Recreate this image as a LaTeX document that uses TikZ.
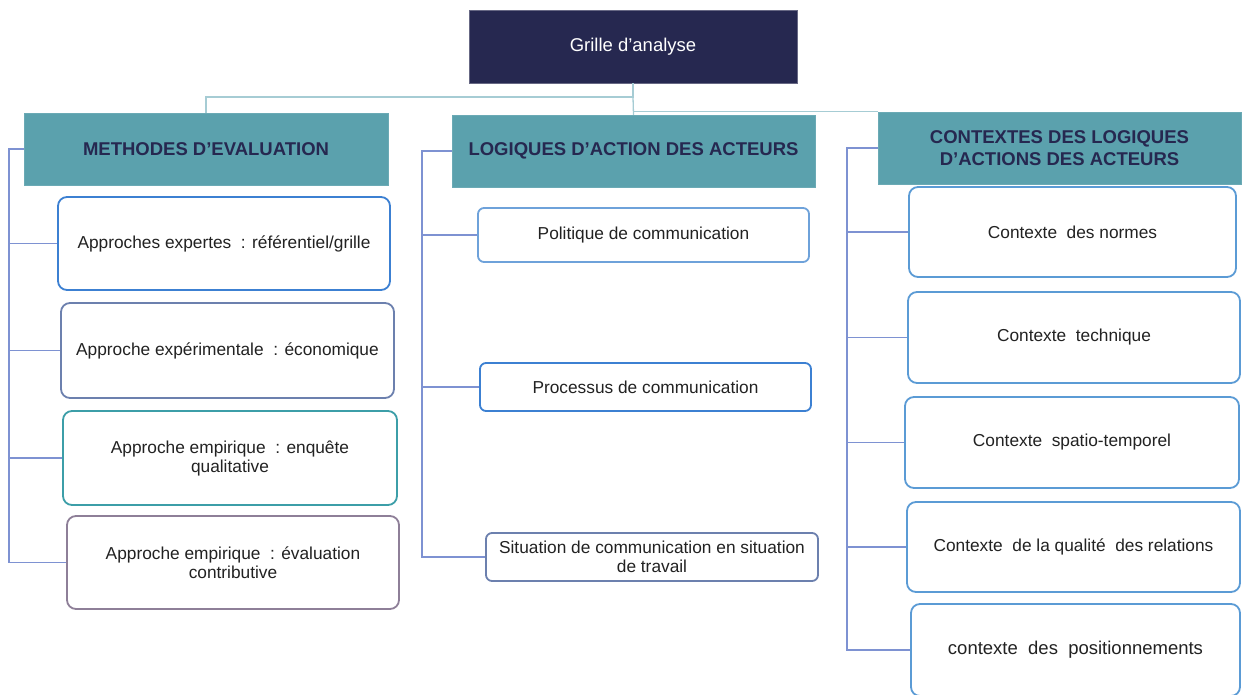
\documentclass[tikz,border=0pt]{standalone}
\usepackage{fontspec}
\setmainfont{Liberation Sans}
\usetikzlibrary{calc}
\definecolor{navy}{HTML}{262850}
\definecolor{teal}{HTML}{5BA1AD}
\definecolor{toplink}{HTML}{A6CCD4}
\definecolor{treelink}{HTML}{7E92D2}
\definecolor{bstrong}{HTML}{3C80D2}
\definecolor{bslate}{HTML}{6C80AE}
\definecolor{bteal}{HTML}{3C9EA8}
\definecolor{bmauve}{HTML}{8E7F98}
\definecolor{blight}{HTML}{6EA2DA}
\definecolor{bctx}{HTML}{5B9BD5}
\definecolor{txt}{HTML}{222222}
\tikzset{
  rootbox/.style={fill=navy, draw=navy!70, text=white, inner sep=0pt, font=\fontsize{18.5}{22}\selectfont},
  headbox/.style={fill=teal, draw=teal!90, text=navy, inner sep=0pt, align=center, font=\fontsize{18.5}{22}\selectfont\bfseries},
  leafbox/.style={fill=white, rounded corners=9pt, line width=1.8pt, text=txt, inner sep=0pt, align=center, font=\fontsize{17.3}{19}\selectfont},
  midbox/.style={leafbox, rounded corners=6pt},
  toplinkstyle/.style={draw=toplink, line width=1.3pt},
  treestyle/.style={draw=treelink, line width=1.2pt},
}
\begin{document}
\begin{tikzpicture}[x=1pt,y=-1pt]
\useasboundingbox (0,0) rectangle (1242,695);
% root
\node[rootbox, minimum width=328, minimum height=73] (g) at (633,46.5) {Grille d’analyse};
% headers
\node[headbox, minimum width=364, minimum height=72] (mh) at (206,149) {METHODES D’EVALUATION};
\node[headbox, minimum width=363, minimum height=72] (lh) at (633.5,151) {LOGIQUES D’ACTION DES ACTEURS};
\node[headbox, minimum width=363, minimum height=72] (ch) at (1059.5,148) {CONTEXTES DES LOGIQUES\\D’ACTIONS DES ACTEURS};
% left column
\node[leafbox, draw=bstrong, minimum width=332, minimum height=93] (a1) at (224,243.5) {Approches expertes~ : référentiel/grille};
\node[leafbox, draw=bslate, minimum width=333, minimum height=95] (a2) at (227.5,350.5) {Approche expérimentale~ : économique};
\node[leafbox, draw=bteal, minimum width=334, minimum height=94] (a3) at (230,458) {Approche empirique~ : enquête\\qualitative};
\node[leafbox, draw=bmauve, minimum width=332, minimum height=93] (a4) at (233,562.5) {Approche empirique~ : évaluation\\contributive};
% middle column
\node[midbox, draw=blight, minimum width=331, minimum height=54] (b1) at (643.5,235) {Politique de communication};
\node[midbox, draw=bstrong, minimum width=331, minimum height=48] (b2) at (645.5,387) {Processus de communication};
\node[midbox, draw=bslate, minimum width=332, minimum height=48] (b3) at (652,557) {Situation de communication en situation\\de travail};
% right column
\node[leafbox, draw=bctx, minimum width=327, minimum height=90] (c1) at (1072.5,232) {Contexte~ des normes};
\node[leafbox, draw=bctx, minimum width=332, minimum height=91] (c2) at (1074,337.5) {Contexte~ technique};
\node[leafbox, draw=bctx, minimum width=334, minimum height=91] (c3) at (1072,442.5) {Contexte~ spatio-temporel};
\node[leafbox, draw=bctx, minimum width=333, minimum height=90] (c4) at (1073.5,547) {Contexte~ de la qualité~ des relations};
\node[leafbox, draw=bctx, minimum width=329, minimum height=92, font=\fontsize{18.5}{21}\selectfont] (c5) at (1075.5,650) {contexte~ des~ positionnements};
% top links
\coordinate (gj) at (633,97);
\draw[toplinkstyle] (g.south) -- (gj) -| (mh.north);
\draw[toplinkstyle] (gj) -- (lh.north);
\draw[toplinkstyle] (lh.north |- ch.north west) -- (ch.north west);
% left tree
\coordinate (lt) at (9,149);
\draw[treestyle] (mh.west) -- (lt) |- (a4.west);
\draw[treestyle] (lt |- a1.west) -- (a1.west);
\draw[treestyle] (lt |- a2.west) -- (a2.west);
\draw[treestyle] (lt |- a3.west) -- (a3.west);
% middle tree
\coordinate (mt) at (422,151);
\draw[treestyle] (lh.west) -- (mt) |- (b3.west);
\draw[treestyle] (mt |- b1.west) -- (b1.west);
\draw[treestyle] (mt |- b2.west) -- (b2.west);
% right tree
\coordinate (rt) at (847,148);
\draw[treestyle] (ch.west) -- (rt) |- (c5.west);
\draw[treestyle] (rt |- c1.west) -- (c1.west);
\draw[treestyle] (rt |- c2.west) -- (c2.west);
\draw[treestyle] (rt |- c3.west) -- (c3.west);
\draw[treestyle] (rt |- c4.west) -- (c4.west);
\end{tikzpicture}
\end{document}
